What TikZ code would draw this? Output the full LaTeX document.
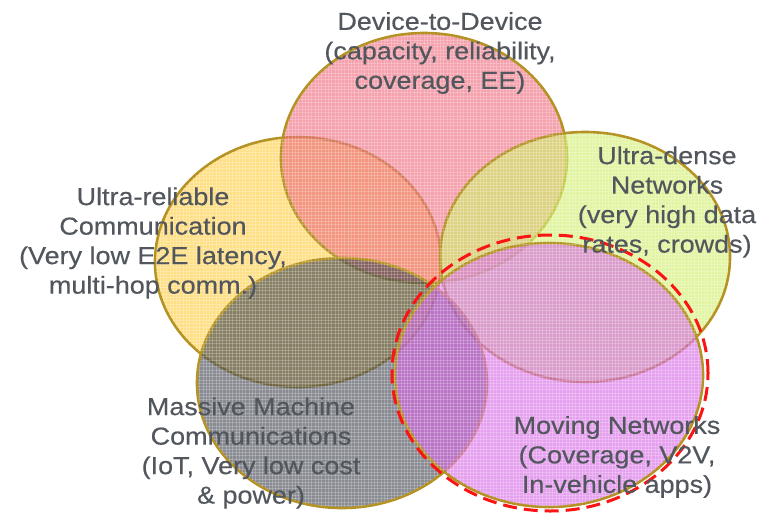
\documentclass[tikz,border=0pt]{standalone}
\usepackage{fontspec}
\setmainfont[FakeStretch=1.1,FakeBold=0.4]{Liberation Sans}
\definecolor{edgec}{RGB}{180,146,36}
\definecolor{pinkc}{RGB}{238,105,123}
\definecolor{yellowc}{RGB}{255,203,60}
\definecolor{greenc}{RGB}{207,238,105}
\definecolor{grayc}{RGB}{63,68,78}
\definecolor{purplec}{RGB}{215,102,230}
\definecolor{txtc}{RGB}{82,87,94}
\definecolor{redc}{RGB}{250,20,20}
\tikzset{
  blob/.style={draw=edgec, line width=2.6pt, fill=#1, fill opacity=0.62, draw opacity=1},
  lbl/.style={text=txtc, align=center, inner sep=0pt, font=\fontsize{24.5}{29.5}\selectfont},
  ring/.style={draw=redc, line width=3pt, dash pattern=on 14pt off 7pt},
  gridline/.style={draw=white, line width=0.5pt, draw opacity=0.22}
}
\begin{document}
\begin{tikzpicture}[x=1pt,y=-1pt]
\useasboundingbox (0,0) rectangle (765,512);
% circles
\path[blob=yellowc] (298,262) ellipse [x radius=143pt, y radius=125pt];
\path[blob=pinkc] (424,158) ellipse [x radius=143pt, y radius=125pt];
\path[blob=greenc] (585,257) ellipse [x radius=145pt, y radius=125pt];
\path[blob=grayc] (342,383) ellipse [x radius=145pt, y radius=125pt];
\path[blob=purplec] (549,375) ellipse [x radius=154pt, y radius=132pt];
% grid texture
\begin{scope}
\clip (298,262) ellipse [x radius=142pt, y radius=124pt]
  (424,158) ellipse [x radius=142pt, y radius=124pt]
  (585,257) ellipse [x radius=144pt, y radius=124pt]
  (342,383) ellipse [x radius=144pt, y radius=124pt]
  (549,375) ellipse [x radius=153pt, y radius=131pt];
\foreach \k in {0,...,235} {
  \path[gridline] (150+3.3*\k,30) -- (150+3.3*\k,512);
}
\foreach \k in {0,...,147} {
  \path[gridline] (150,30+3.3*\k) -- (740,30+3.3*\k);
}
\end{scope}
% red dashed ring
\draw[ring] (550,373) ellipse [x radius=158pt, y radius=138pt];
% labels
\node[lbl] (d2d) at (440,53) {Device-to-Device\\(capacity, reliability,\\coverage, EE)};
\node[lbl] (urc) at (153,243) {Ultra-reliable\\Communication\\(Very low E2E latency,\\multi-hop comm.)};
\node[lbl] (udn) at (667,202) {Ultra-dense\\Networks\\(very high data\\rates, crowds)};
\node[lbl] (mmc) at (251,453) {Massive Machine\\Communications\\(IoT, Very low cost\\\& power)};
\node[lbl] (mn) at (617,457) {Moving Networks\\(Coverage, V2V,\\In-vehicle apps)};
\end{tikzpicture}
\end{document}
